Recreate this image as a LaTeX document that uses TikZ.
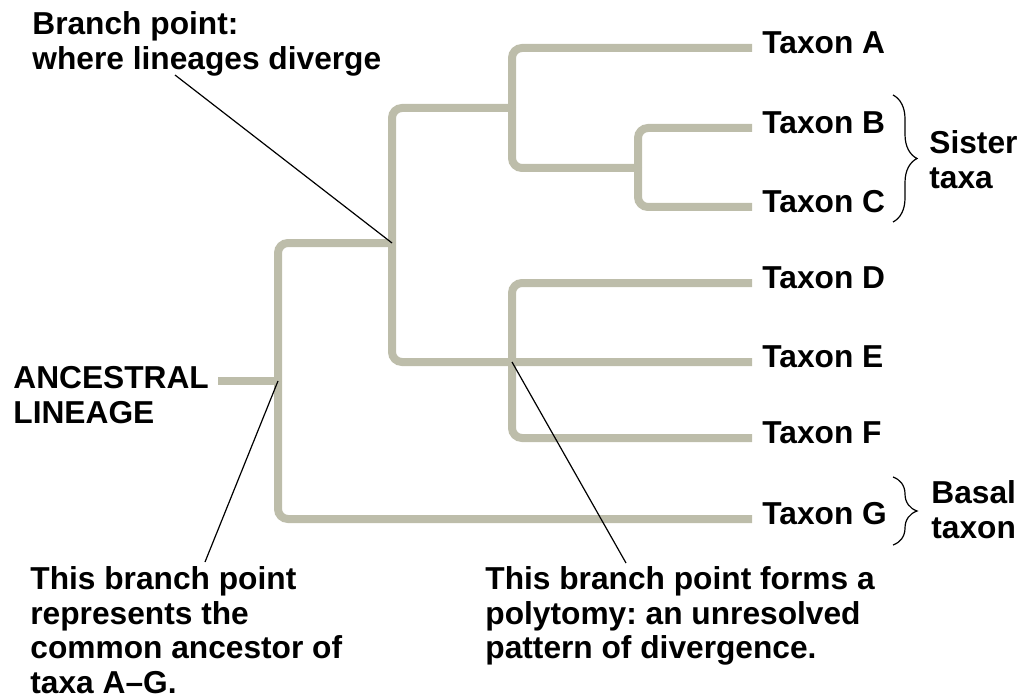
\documentclass[tikz,border=0pt]{standalone}
\usepackage{fontspec}
\setmainfont{Liberation Sans}
\usepackage{tikz}
\usetikzlibrary{decorations.pathreplacing}
\definecolor{branchgray}{RGB}{189,189,170}
\newcommand{\labelfont}{\fontsize{15.85pt}{17.4pt}\selectfont\bfseries}
\tikzset{
    branch/.style={line width=4pt, draw=branchgray, rounded corners=5pt},
    pointer/.style={line width=0.6pt, black},
    taxon/.style={anchor=west, inner xsep=5pt, inner ysep=0pt, yshift=2.5pt, font=\labelfont},
    note/.style={anchor=north west, align=left, inner sep=0pt, font=\labelfont},
    bracket/.style={decorate, decoration={brace, amplitude=12pt}, line width=0.6pt}
}
\newcommand{\drawTaxon}[1]{
    \node[taxon] (t#1) at (tip#1) {Taxon #1}
}
\frenchspacing

\begin{document}
\begin{tikzpicture}[x=0.5pt, y=-0.5pt]
            \useasboundingbox (0,0) rectangle (1021,700);

            % branch points and tips
            \coordinate (anc) at (218,381);
            \coordinate (r) at (278,381);
            \coordinate (bp1) at (392,243);
            \coordinate (bp2) at (512,108);
            \coordinate (bc) at (638,168);
            \coordinate (poly) at (512,362);
            \coordinate (tipA) at (752,48);
            \coordinate (tipB) at (752,128);
            \coordinate (tipC) at (752,207);
            \coordinate (tipD) at (752,283);
            \coordinate (tipE) at (752,362);
            \coordinate (tipF) at (752,438);
            \coordinate (tipG) at (752,519);

            % tree
            \draw[branch] (anc) -- (r);
            \draw[branch] (r) |- (bp1);
            \draw[branch] (r) |- (tipG);
            \draw[branch] (bp1) |- (bp2);
            \draw[branch] (bp1) |- (tipE);
            \draw[branch] (bp2) |- (tipA);
            \draw[branch] (bp2) |- (bc);
            \draw[branch] (bc) |- (tipB);
            \draw[branch] (bc) |- (tipC);
            \draw[branch] (poly) |- (tipD);
            \draw[branch] (poly) |- (tipF);

            \drawTaxon{A};
            \drawTaxon{B};
            \drawTaxon{C};
            \drawTaxon{D};
            \drawTaxon{E};
            \drawTaxon{F};
            \drawTaxon{G};

            % braces
            \draw[bracket] (893,95) -- (893,222);
            \draw[bracket] (893,477) -- (893,545);
            \node[note] (sister) at (929,130) {Sister\\taxa};
            \node[note] (basal) at (931,480) {Basal\\taxon};

            % labels
            \node[note] (ancestral) at (13,366) {ANCESTRAL\\LINEAGE};
            \node[note] (branchpt) at (32,11) {Branch point:\\where lineages diverge};
            \node[note] (common) at (30,566) {This branch point\\represents the\\common ancestor of\\taxa A--G.};
            \node[note] (polytomy) at (485,566) {This branch point forms a\\polytomy: an unresolved\\pattern of divergence.};

            % pointers
            \coordinate (p1) at (175,75);
            \coordinate (p2) at (205,562);
            \coordinate (p3) at (626,563);
            \draw[pointer] (p1) -- (bp1);
            \draw[pointer] (r) -- (p2);
            \draw[pointer] (poly) -- (p3);
\end{tikzpicture}
\end{document}
